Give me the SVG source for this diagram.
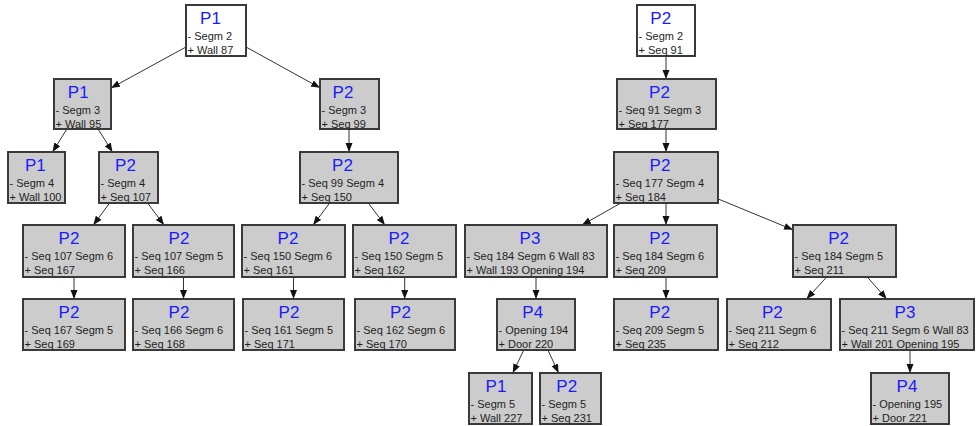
<svg xmlns="http://www.w3.org/2000/svg" width="977" height="426" viewBox="0 0 977 426">
<style>
.b{fill:#cccccc;stroke:#3a3a3a;stroke-width:2}
.w{fill:#ffffff;stroke:#3a3a3a;stroke-width:2}
.t{font-family:"Liberation Sans",Arial,sans-serif;font-size:17px;fill:#1a1aff;text-anchor:middle}
.l{font-family:"Liberation Sans",Arial,sans-serif;font-size:11px;fill:#1e1e1e}
.c line{stroke:#333333;stroke-width:1;marker-end:url(#ah)}
</style>
<defs>
<marker id="ah" markerUnits="userSpaceOnUse" markerWidth="10" markerHeight="8" refX="9" refY="3.5" orient="auto">
<path d="M0,0 L9,3.5 L0,7 Z" fill="#111111"/>
</marker>
</defs>
<rect width="977" height="426" fill="#ffffff"/>
<g class="c" id="connectors">
<line x1="186" y1="47" x2="111" y2="88"/>
<line x1="246" y1="47" x2="320" y2="87.8"/>
<line x1="66.9" y1="129" x2="52.5" y2="152"/>
<line x1="98.1" y1="129" x2="112.5" y2="152"/>
<line x1="349" y1="129" x2="349" y2="152"/>
<line x1="109.6" y1="203" x2="93.3" y2="225"/>
<line x1="147.6" y1="203" x2="164" y2="225"/>
<line x1="329.7" y1="203" x2="313.1" y2="225"/>
<line x1="368.3" y1="203" x2="384.9" y2="225"/>
<line x1="74" y1="277" x2="74" y2="299"/>
<line x1="183.5" y1="277" x2="183.5" y2="299"/>
<line x1="293.5" y1="277" x2="293.5" y2="299"/>
<line x1="404.7" y1="277" x2="404.7" y2="299"/>
<line x1="666" y1="56" x2="666" y2="79"/>
<line x1="666" y1="129" x2="666" y2="152"/>
<line x1="620.9" y1="203" x2="582" y2="225"/>
<line x1="666" y1="203" x2="666" y2="225"/>
<line x1="718" y1="198.9" x2="793" y2="229.8"/>
<line x1="536" y1="277" x2="536" y2="299"/>
<line x1="666" y1="277" x2="666" y2="299"/>
<line x1="826.7" y1="277" x2="806.5" y2="299"/>
<line x1="867.3" y1="277" x2="886.7" y2="299"/>
<line x1="523.8" y1="350" x2="512.7" y2="373"/>
<line x1="547.9" y1="350" x2="558.6" y2="373"/>
<line x1="910" y1="350" x2="910" y2="373"/>
</g>
<g id="A"><rect class="w" x="186" y="5" width="60" height="51"/><text class="t" x="210.5" y="24">P1</text><text class="l" x="187.5" y="39.5">- Segm 2</text><text class="l" x="187.5" y="54">+ Wall 87</text></g>
<g id="B"><rect class="b" x="54" y="79" width="57" height="50"/><text class="t" x="78.2" y="98">P1</text><text class="l" x="55.5" y="113.5">- Segm 3</text><text class="l" x="55.5" y="128">+ Wall 95</text></g>
<g id="C"><rect class="b" x="320" y="79" width="59" height="50"/><text class="t" x="343" y="98">P2</text><text class="l" x="321.5" y="113.5">- Segm 3</text><text class="l" x="321.5" y="128">+ Seq 99</text></g>
<g id="D"><rect class="b" x="8" y="152" width="57" height="51"/><text class="t" x="35.3" y="171">P1</text><text class="l" x="9.5" y="186.5">- Segm 4</text><text class="l" x="9.5" y="201">+ Wall 100</text></g>
<g id="E"><rect class="b" x="99" y="152" width="59" height="51"/><text class="t" x="125.5" y="171">P2</text><text class="l" x="100.5" y="186.5">- Segm 4</text><text class="l" x="100.5" y="201">+ Seq 107</text></g>
<g id="F"><rect class="b" x="300" y="152" width="98" height="51"/><text class="t" x="342.5" y="171">P2</text><text class="l" x="301.5" y="186.5">- Seq 99 Segm 4</text><text class="l" x="301.5" y="201">+ Seq 150</text></g>
<g id="G"><rect class="b" x="23" y="225" width="102" height="52"/><text class="t" x="69" y="244">P2</text><text class="l" x="24.5" y="259.5">- Seq 107 Segm 6</text><text class="l" x="24.5" y="274">+ Seq 167</text></g>
<g id="H"><rect class="b" x="133" y="225" width="101" height="52"/><text class="t" x="179" y="244">P2</text><text class="l" x="134.5" y="259.5">- Seq 107 Segm 5</text><text class="l" x="134.5" y="274">+ Seq 166</text></g>
<g id="I"><rect class="b" x="242" y="225" width="103" height="52"/><text class="t" x="288" y="244">P2</text><text class="l" x="243.5" y="259.5">- Seq 150 Segm 6</text><text class="l" x="243.5" y="274">+ Seq 161</text></g>
<g id="J"><rect class="b" x="353" y="225" width="103" height="52"/><text class="t" x="399" y="244">P2</text><text class="l" x="354.5" y="259.5">- Seq 150 Segm 5</text><text class="l" x="354.5" y="274">+ Seq 162</text></g>
<g id="K"><rect class="b" x="23" y="299" width="102" height="51"/><text class="t" x="69" y="318">P2</text><text class="l" x="24.5" y="333.5">- Seq 167 Segm 5</text><text class="l" x="24.5" y="348">+ Seq 169</text></g>
<g id="L"><rect class="b" x="133" y="299" width="101" height="51"/><text class="t" x="179" y="318">P2</text><text class="l" x="134.5" y="333.5">- Seq 166 Segm 6</text><text class="l" x="134.5" y="348">+ Seq 168</text></g>
<g id="M"><rect class="b" x="243" y="299" width="101" height="51"/><text class="t" x="289" y="318">P2</text><text class="l" x="244.5" y="333.5">- Seq 161 Segm 5</text><text class="l" x="244.5" y="348">+ Seq 171</text></g>
<g id="N"><rect class="b" x="355" y="299" width="100" height="51"/><text class="t" x="400.5" y="318">P2</text><text class="l" x="356.5" y="333.5">- Seq 162 Segm 6</text><text class="l" x="356.5" y="348">+ Seq 170</text></g>
<g id="O"><rect class="w" x="637" y="5" width="58" height="51"/><text class="t" x="660.7" y="24">P2</text><text class="l" x="638.5" y="39.5">- Segm 2</text><text class="l" x="638.5" y="54">+ Seq 91</text></g>
<g id="P"><rect class="b" x="617" y="79" width="99" height="50"/><text class="t" x="659.5" y="98">P2</text><text class="l" x="618.5" y="113.5">- Seq 91 Segm 3</text><text class="l" x="618.5" y="128">+ Seq 177</text></g>
<g id="Q"><rect class="b" x="614" y="152" width="104" height="51"/><text class="t" x="660" y="171">P2</text><text class="l" x="615.5" y="186.5">- Seq 177 Segm 4</text><text class="l" x="615.5" y="201">+ Seq 184</text></g>
<g id="R"><rect class="b" x="465" y="225" width="142" height="52"/><text class="t" x="530" y="244">P3</text><text class="l" x="466.5" y="259.5">- Seq 184 Segm 6 Wall 83</text><text class="l" x="466.5" y="274">+ Wall 193 Opening 194</text></g>
<g id="S"><rect class="b" x="614" y="225" width="103" height="52"/><text class="t" x="659.7" y="244">P2</text><text class="l" x="615.5" y="259.5">- Seq 184 Segm 6</text><text class="l" x="615.5" y="274">+ Seq 209</text></g>
<g id="T"><rect class="b" x="793" y="225" width="103" height="52"/><text class="t" x="838.6" y="244">P2</text><text class="l" x="794.5" y="259.5">- Seq 184 Segm 5</text><text class="l" x="794.5" y="274">+ Seq 211</text></g>
<g id="U"><rect class="b" x="497" y="299" width="78" height="51"/><text class="t" x="532.7" y="318">P4</text><text class="l" x="498.5" y="333.5">- Opening 194</text><text class="l" x="498.5" y="348">+ Door 220</text></g>
<g id="V"><rect class="b" x="614" y="299" width="104" height="51"/><text class="t" x="659.7" y="318">P2</text><text class="l" x="615.5" y="333.5">- Seq 209 Segm 5</text><text class="l" x="615.5" y="348">+ Seq 235</text></g>
<g id="W"><rect class="b" x="727" y="299" width="104" height="51"/><text class="t" x="772.4" y="318">P2</text><text class="l" x="728.5" y="333.5">- Seq 211 Segm 6</text><text class="l" x="728.5" y="348">+ Seq 212</text></g>
<g id="X"><rect class="b" x="840" y="299" width="134" height="51"/><text class="t" x="905" y="318">P3</text><text class="l" x="841.5" y="333.5">- Seq 211 Segm 6 Wall 83</text><text class="l" x="841.5" y="348">+ Wall 201 Opening 195</text></g>
<g id="Y"><rect class="b" x="469" y="373" width="63" height="51"/><text class="t" x="496" y="392">P1</text><text class="l" x="470.5" y="407.5">- Segm 5</text><text class="l" x="470.5" y="422">+ Wall 227</text></g>
<g id="Z"><rect class="b" x="540" y="373" width="61" height="51"/><text class="t" x="566.7" y="392">P2</text><text class="l" x="541.5" y="407.5">- Segm 5</text><text class="l" x="541.5" y="422">+ Seq 231</text></g>
<g id="AA"><rect class="b" x="871" y="373" width="78" height="51"/><text class="t" x="907" y="392">P4</text><text class="l" x="872.5" y="407.5">- Opening 195</text><text class="l" x="872.5" y="422">+ Door 221</text></g>
</svg>
